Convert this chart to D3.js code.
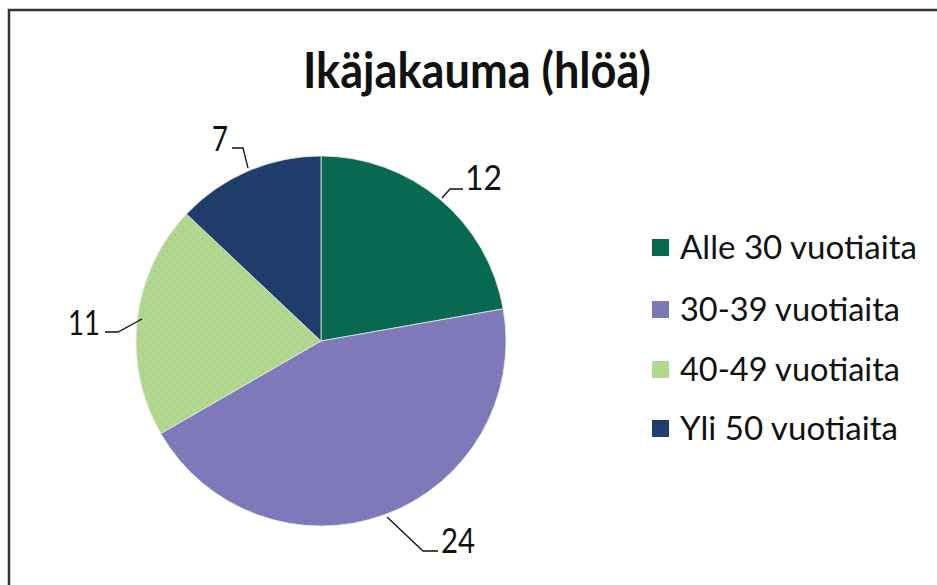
<!DOCTYPE html>
<html><head><meta charset="utf-8">
<script src="https://cdn.jsdelivr.net/npm/d3@7"></script>
<style>html,body{margin:0;padding:0;background:#fff;}svg{display:block;}</style>
</head><body>
<script>
const title = "Ikäjakauma (hlöä)";
const categories = ["Alle 30 vuotiaita", "30-39 vuotiaita", "40-49 vuotiaita", "Yli 50 vuotiaita"];
const values = [12, 24, 11, 7];
const colors = ["#07694f", "#7e77b8", "#b2d88f", "#1f3e6c"];
const dotColors = ["#0b6f56", "#9089c6", "#9fc77e", "#152f58"];

const W = 937, H = 585;
const svg = d3.select("body").append("svg").attr("width", W).attr("height", H);

// frame (only left and top edges visible)
svg.append("path").attr("d", "M9,585 L9,10 L937,10").attr("fill", "none").attr("stroke", "#333").attr("stroke-width", 2.5);

svg.append("text").attr("x", 477).attr("y", 88).attr("text-anchor", "middle")
  .attr("font-family", "Lato, 'Open Sans', sans-serif").attr("font-weight", "bold").attr("font-size", 50)
  .attr("textLength", 348).attr("lengthAdjust", "spacingAndGlyphs").attr("fill", "#111").text(title);

const defs = svg.append("defs");
colors.forEach((c, i) => {
  const p = defs.append("pattern").attr("id", "pat" + i).attr("patternUnits", "userSpaceOnUse")
    .attr("width", 8).attr("height", 8);
  p.append("rect").attr("width", 8).attr("height", 8).attr("fill", c);
  p.append("rect").attr("x", 1).attr("y", 1).attr("width", 1.5).attr("height", 1.5).attr("fill", dotColors[i]);
  p.append("rect").attr("x", 5).attr("y", 5).attr("width", 1.5).attr("height", 1.5).attr("fill", dotColors[i]);
});

const cx = 321, cy = 341, R = 185;
const pie = d3.pie().sort(null).value(d => d)(values);
const arc = d3.arc().innerRadius(0).outerRadius(R);
const g = svg.append("g").attr("transform", `translate(${cx},${cy})`);
g.selectAll("path").data(pie).join("path")
  .attr("d", arc).attr("fill", (d, i) => `url(#pat${i})`)
  .attr("stroke", "#dfe8e8").attr("stroke-width", 0.8);

// data labels with leader lines
const labelFont = "Lato, 'Open Sans', sans-serif";
const leaders = [
  {pts: [[442,198],[450,189],[463,189]], tx: 465, ty: 190, anchor: "start", w: 37},
  {pts: [[387,517],[423,551],[438,551]], tx: 441, ty: 553, anchor: "start", w: 34},
  {pts: [[142,319],[118,332],[105,332]], tx: 100, ty: 335, anchor: "end", w: 32},
  {pts: [[248,168],[243,148],[232,148]], tx: 228, ty: 151, anchor: "end", w: 16}
];
leaders.forEach((l, i) => {
  svg.append("path").attr("d", d3.line()(l.pts)).attr("fill", "none").attr("stroke", "#111").attr("stroke-width", 1.3);
  svg.append("text").attr("x", l.tx).attr("y", l.ty).attr("text-anchor", l.anchor)
    .attr("font-family", labelFont).attr("font-size", 35).attr("fill", "#111")
    .attr("textLength", l.w).attr("lengthAdjust", "spacingAndGlyphs")
    .text(values[i]);
});

// legend
const legY = [248, 310, 370, 429];
const legW = [237, 220, 220, 218];
const lg = svg.append("g");
categories.forEach((c, i) => {
  lg.append("rect").attr("x", 652).attr("y", legY[i] - 9).attr("width", 17).attr("height", 17).attr("fill", colors[i]);
  lg.append("text").attr("x", 680).attr("y", legY[i] + 11)
    .attr("font-family", labelFont).attr("font-size", 32).attr("fill", "#111")
    .attr("textLength", legW[i]).attr("lengthAdjust", "spacingAndGlyphs").text(c);
});
</script>
</body></html>
